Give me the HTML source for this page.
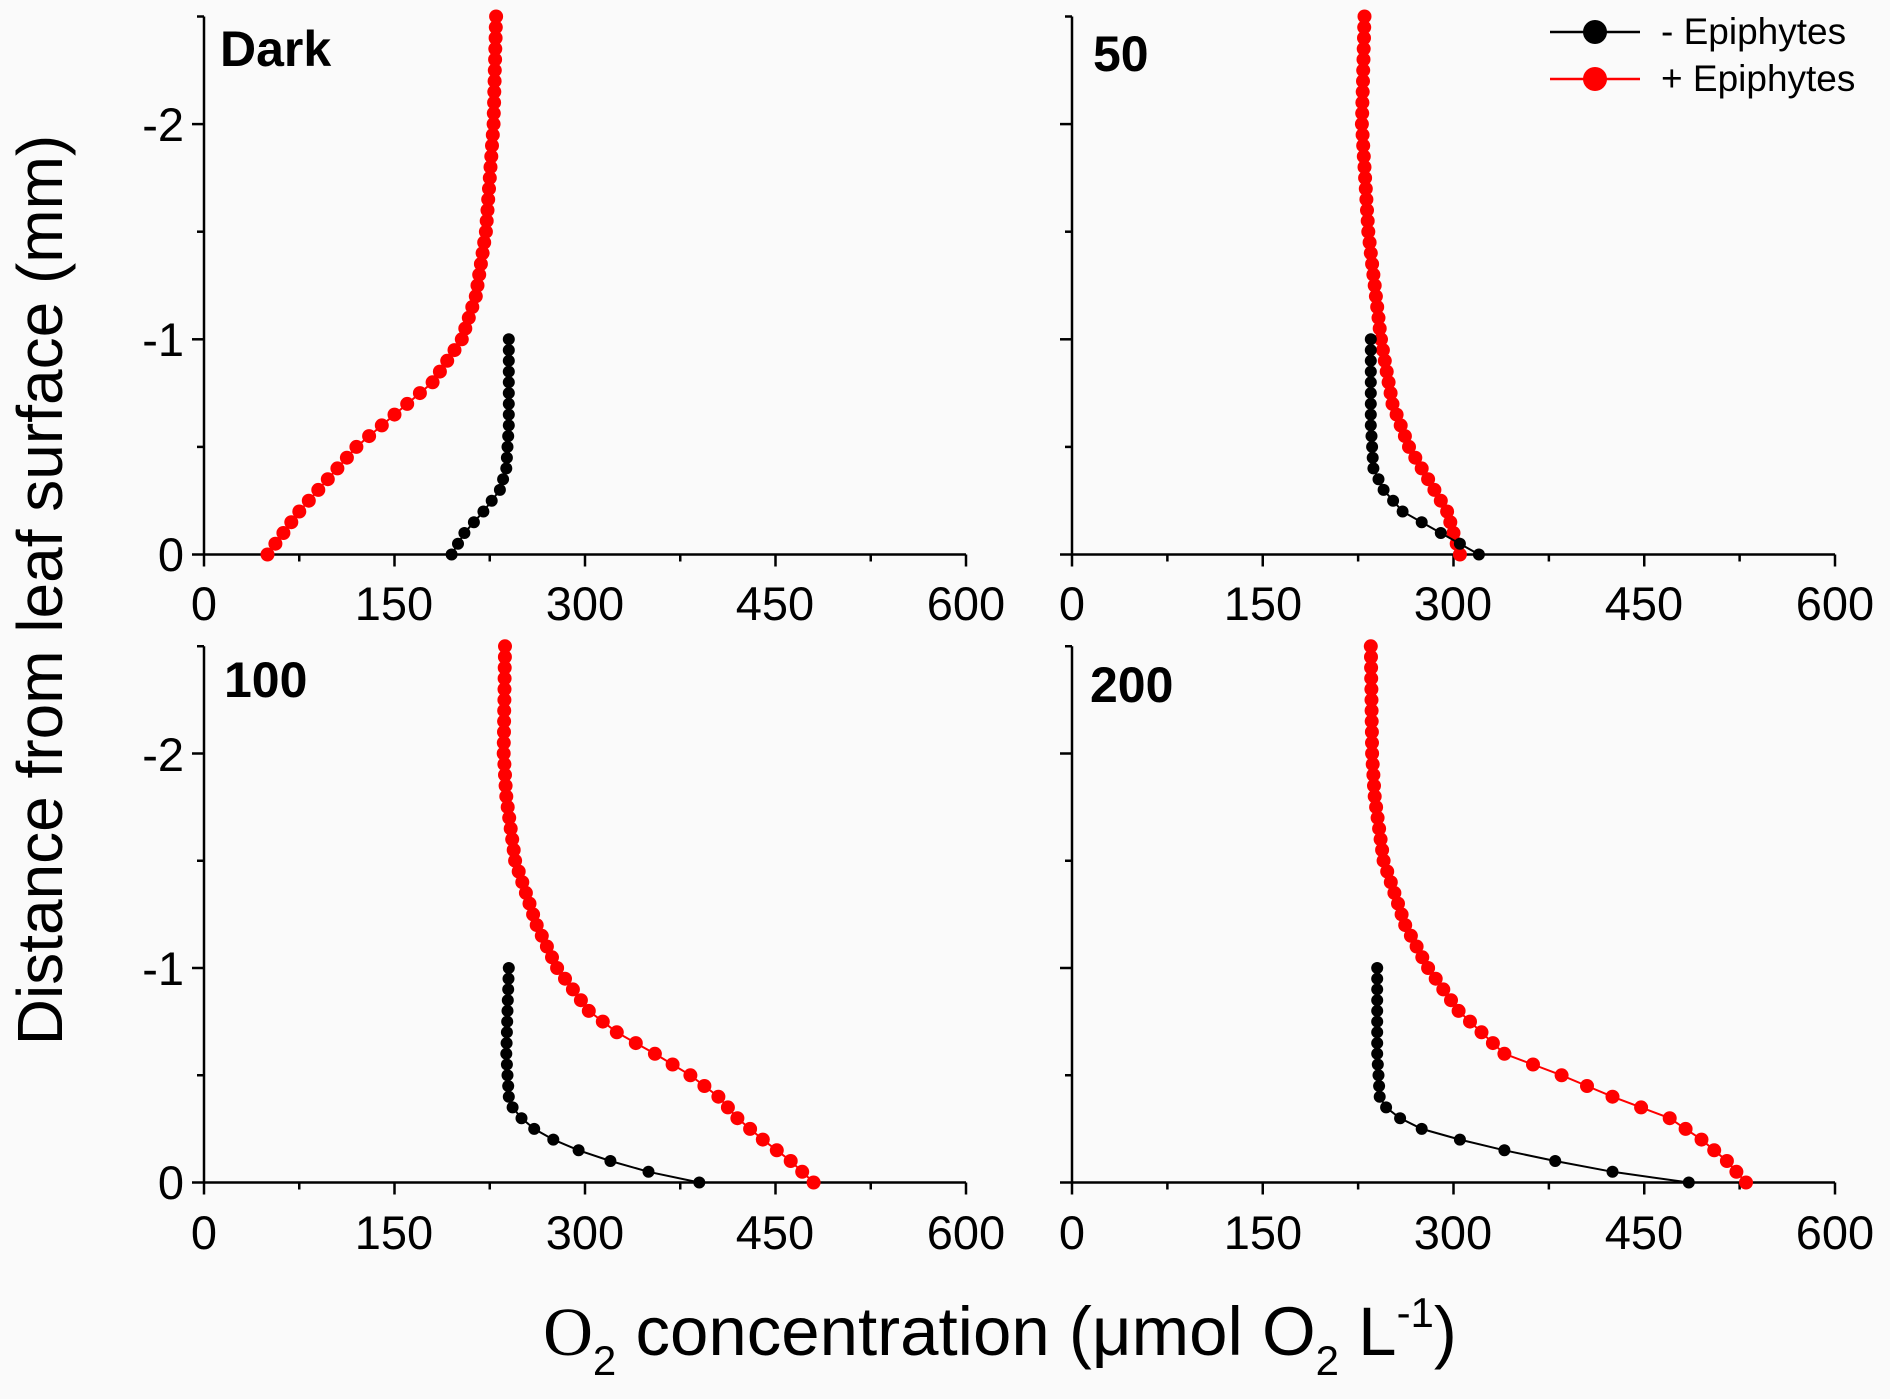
<!DOCTYPE html>
<html><head><meta charset="utf-8"><style>
html,body{margin:0;padding:0;background:#fafafa;}
svg{display:block;font-family:"Liberation Sans",Arial,sans-serif;}
</style></head><body>
<svg id="s" width="1890" height="1399" viewBox="0 0 1890 1399" xmlns="http://www.w3.org/2000/svg">
<rect width="1890" height="1399" fill="#fafafa"/>
<g id="g"></g>
<text x="0" y="0" font-size="64" transform="translate(62,590) rotate(-90)" text-anchor="middle" fill="#000">Distance from leaf surface (mm)</text>
<text x="1000" y="1355" font-size="69" text-anchor="middle" fill="#000"><tspan font-family="Liberation Serif">O</tspan><tspan font-size="42" dy="20">2</tspan><tspan dy="-20"> concentration (μmol O</tspan><tspan font-size="42" dy="20">2</tspan><tspan dy="-20"> L</tspan><tspan font-size="42" dy="-28">-1</tspan><tspan dy="28">)</tspan></text>
<g>
<line x1="1550" y1="32" x2="1640" y2="32" stroke="#000" stroke-width="2.5"/>
<circle cx="1595" cy="32" r="12" fill="#000"/>
<line x1="1550" y1="79" x2="1640" y2="79" stroke="#f00" stroke-width="2.5"/>
<circle cx="1595" cy="79" r="12" fill="#f00"/>
<text x="1661" y="44" font-size="37">-  Epiphytes</text>
<text x="1661" y="91" font-size="37">+ Epiphytes</text>
</g>
<text x="220" y="66" font-size="50" font-weight="bold">Dark</text>
<text x="1093" y="71" font-size="50" font-weight="bold">50</text>
<text x="224" y="697" font-size="50" font-weight="bold">100</text>
<text x="1090" y="702" font-size="50" font-weight="bold">200</text>
<g font-size="47" text-anchor="middle">
<text x="204" y="620">0</text><text x="394" y="620">150</text><text x="585" y="620">300</text><text x="775" y="620">450</text><text x="966" y="620">600</text>
<text x="1072" y="620">0</text><text x="1263" y="620">150</text><text x="1453" y="620">300</text><text x="1644" y="620">450</text><text x="1835" y="620">600</text>
<text x="204" y="1249">0</text><text x="394" y="1249">150</text><text x="585" y="1249">300</text><text x="775" y="1249">450</text><text x="966" y="1249">600</text>
<text x="1072" y="1249">0</text><text x="1263" y="1249">150</text><text x="1453" y="1249">300</text><text x="1644" y="1249">450</text><text x="1835" y="1249">600</text>
</g>
<g font-size="47" text-anchor="end">
<text x="184" y="571">0</text><text x="184" y="356">-1</text><text x="184" y="141">-2</text>
<text x="184" y="1199">0</text><text x="184" y="985">-1</text><text x="184" y="771">-2</text>
</g>
</svg>
<script>
var g=document.getElementById('g');var out='';
function interp(pts,d){for(var i=0;i<pts.length-1;i++){if(d<=pts[i+1][0]){var t=(d-pts[i][0])/(pts[i+1][0]-pts[i][0]);return pts[i][1]+t*(pts[i+1][1]-pts[i][1]);}}return pts[pts.length-1][1];}
function panel(x0,x1,y0,ppm,red,blk){
 var top=y0-2.5*ppm;
 out+='<line x1="'+x0+'" y1="'+top+'" x2="'+x0+'" y2="'+y0+'" stroke="#000" stroke-width="2.5"/>';
 out+='<line x1="'+x0+'" y1="'+y0+'" x2="'+x1+'" y2="'+y0+'" stroke="#000" stroke-width="2.5"/>';
 for(var k=0;k<=8;k++){var x=x0+(x1-x0)*k/8;var L=k%2?7:12;out+='<line x1="'+x+'" y1="'+y0+'" x2="'+x+'" y2="'+(y0+L)+'" stroke="#000" stroke-width="2.5"/>';}
 for(var k=0;k<=5;k++){var y=y0-ppm*k*0.5;var L=k%2?7:12;out+='<line x1="'+x0+'" y1="'+y+'" x2="'+(x0-L)+'" y2="'+y+'" stroke="#000" stroke-width="2.5"/>';}
 function ser(pts,maxd,col,r){var p='',c='';for(var d=0;d<=maxd+1e-9;d+=0.05){var X=x0+(x1-x0)*interp(pts,d)/600,Y=y0-d*ppm;p+=(p?'L':'M')+X.toFixed(1)+' '+Y.toFixed(1);c+='<circle cx="'+X.toFixed(1)+'" cy="'+Y.toFixed(1)+'" r="'+r+'" fill="'+col+'"/>';}
  out+='<path d="'+p+'" fill="none" stroke="'+col+'" stroke-width="2"/>'+c;}
 ser(red,2.5,'#f00',7);ser(blk,1.0,'#000',6);
}
panel(204,966,554.5,215.2,
 [[0,50],[0.2,75],[0.5,120],[0.8,180],[1.0,203],[1.2,214],[1.5,222],[2,228],[2.5,230]],
 [[0,195],[0.1,205],[0.2,220],[0.3,233],[0.4,238],[0.6,240],[1,240]]);
panel(1072,1835,554.5,215.2,
 [[0,305],[0.2,295],[0.3,285],[0.5,265],[0.7,252],[1.0,243],[1.5,233],[2.0,228],[2.5,230]],
 [[0,320],[0.1,290],[0.2,260],[0.3,245],[0.4,237],[0.6,235],[1,235]]);
panel(204,966,1182.5,214.5,
 [[0,480],[0.1,462],[0.2,440],[0.3,420],[0.4,405],[0.5,383],[0.6,355],[0.7,325],[0.8,303],[1.0,278],[1.2,262],[1.5,245],[1.8,238],[2.0,236],[2.5,237]],
 [[0,390],[0.05,350],[0.1,320],[0.15,295],[0.2,275],[0.25,260],[0.3,250],[0.35,243],[0.4,240],[0.6,238],[1,240]]);
panel(1072,1835,1182.5,214.5,
 [[0,530],[0.1,515],[0.2,495],[0.3,470],[0.4,425],[0.5,385],[0.6,340],[0.8,304],[1.0,280],[1.2,262],[1.5,245],[1.8,238],[2.0,236],[2.5,235]],
 [[0,485],[0.05,425],[0.1,380],[0.15,340],[0.2,305],[0.25,275],[0.3,258],[0.35,247],[0.4,242],[0.6,240],[1,240]]);
g.innerHTML=out;
</script>
</body></html>
